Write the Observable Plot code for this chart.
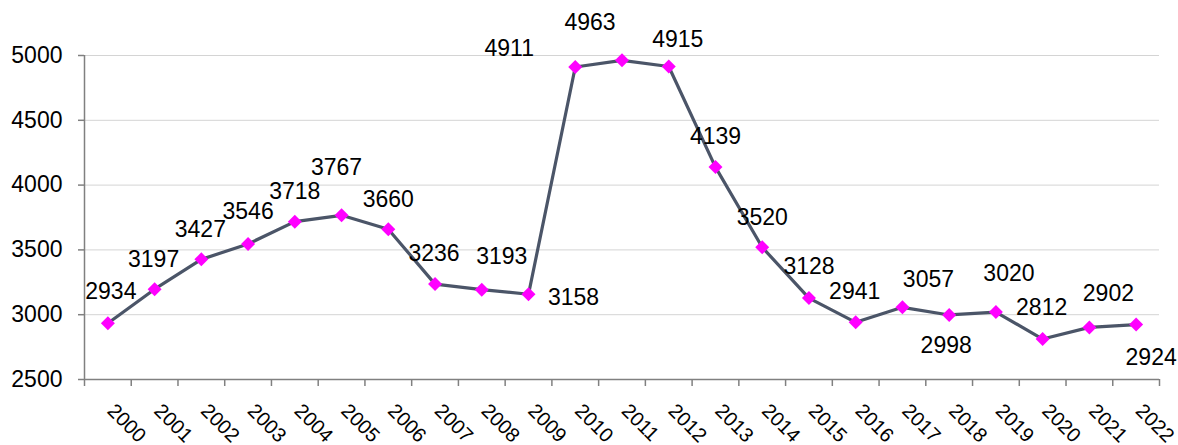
<!DOCTYPE html>
<html>
<head>
<meta charset="utf-8">
<script src="https://cdn.jsdelivr.net/npm/d3@7"></script>
<script src="https://cdn.jsdelivr.net/npm/@observablehq/plot@0.6"></script>
<style>
  html, body { margin: 0; padding: 0; background: #fff; }
  #chart svg { display: block; font-family: "Liberation Sans", Arial, sans-serif; }
</style>
</head>
<body>
<div id="chart"></div>
<script>
// ---- data ----
const years = ["2000","2001","2002","2003","2004","2005","2006","2007","2008","2009","2010","2011",
               "2012","2013","2014","2015","2016","2017","2018","2019","2020","2021","2022"];
const values = [2934,3197,3427,3546,3718,3767,3660,3236,3193,3158,4911,4963,
                4915,4139,3520,3128,2941,3057,2998,3020,2812,2902,2924];
const yTicks = [2500,3000,3500,4000,4500,5000];
// label placement offsets (px) as in the original chart
const labelDx = [3,-1,-1,0,0,-5,0,-1,20,45,-66,-32,9,0,0,0,-1,26,-3,13,-1,19,15];
const labelDy = [-32,-30,-30,-32,-30,-48,-30,-30,-33,3,-18,-38,-27,-30,-30,-31,-31,-28,31,-38,-31,-34,33];

const data = years.map((yr, i) => ({i, year: yr, value: values[i], dx: labelDx[i], dy: labelDy[i]}));
const idx = years.map((_, i) => i);
const bounds = [-0.5, ...idx.map(i => i + 0.5)];
const axisGrey = "#808080";

const chart = Plot.plot({
  width: 1178,
  height: 445,
  marginLeft: 84,
  marginRight: 19,
  marginTop: 55,
  marginBottom: 66,
  x: {domain: [bounds[0], bounds[bounds.length - 1]], axis: null},
  y: {domain: [yTicks[0], yTicks[yTicks.length - 1]], axis: null},
  marks: [
    Plot.ruleY(yTicks.slice(1), {stroke: "#d4d4d4", strokeWidth: 1}),
    Plot.ruleY([yTicks[0]], {stroke: axisGrey, strokeWidth: 1.5}),
    Plot.ruleX([bounds[0]], {stroke: axisGrey, strokeWidth: 1.5}),
    Plot.axisY({ticks: yTicks, tickSize: 6, tickPadding: 16, fontSize: 23, stroke: axisGrey, fill: "black",
                strokeWidth: 1.5, tickFormat: d => String(d), label: null}),
    Plot.axisX({ticks: bounds, tickSize: 7, stroke: axisGrey, strokeWidth: 1.5, tickFormat: () => "", label: null}),
    Plot.text(data, {x: "i", frameAnchor: "bottom", text: "year", rotate: 45, textAnchor: "start",
                     lineAnchor: "middle", dx: 3, dy: 28, fontSize: 20, fill: "black"}),
    Plot.line(data, {x: "i", y: "value", stroke: "#4b5568", strokeWidth: 3.2}),
    Plot.dot(data, {x: "i", y: "value", symbol: "diamond2", r: 6.3, fill: "#ff00ff", stroke: null}),
    ...data.map(d => Plot.text([d], {x: "i", y: "value", text: r => String(r.value), dx: d.dx, dy: d.dy,
                     fontSize: 23, fill: "black", textAnchor: "middle", lineAnchor: "middle"}))
  ]
});
document.getElementById("chart").appendChild(chart);
</script>
</body>
</html>
